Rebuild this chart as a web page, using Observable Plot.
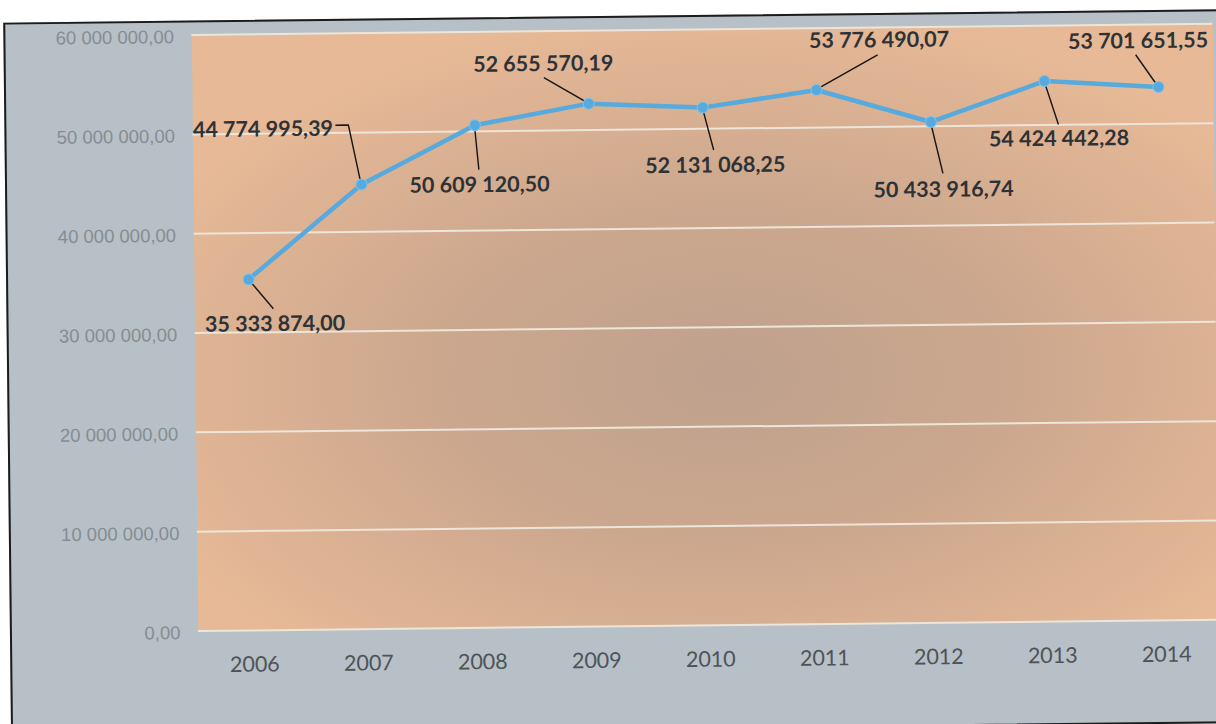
<!DOCTYPE html>
<html>
<head>
<meta charset="utf-8">
<script src="https://cdn.jsdelivr.net/npm/d3@7"></script>
<script src="https://cdn.jsdelivr.net/npm/@observablehq/plot@0.6"></script>
<style>
  html, body { margin: 0; padding: 0; background: #ffffff; width: 1216px; height: 724px; overflow: hidden; }
  #wrap { position: absolute; left: 0; top: 0; width: 1216px; height: 724px;
          transform: rotate(-0.63deg); transform-origin: 608px 362px; }
  #box { position: absolute; left: 7px; top: 16px; width: 1240px; height: 710px;
         background: #b6c0c6; border: 2.5px solid #1c1c1c; }
  #chart { position: absolute; left: 0; top: 0; }
</style>
</head>
<body>
<div id="wrap"><div id="box"></div><div id="chart"></div></div>
<script>
// ---- data ----
const years = ["2006", "2007", "2008", "2009", "2010", "2011", "2012", "2013", "2014"];
const values = [35333874.00, 44774995.39, 50609120.50, 52655570.19, 52131068.25,
                53776490.07, 50433916.74, 54424442.28, 53701651.55];
const yTicks = [0, 10000000, 20000000, 30000000, 40000000, 50000000, 60000000];

// ---- layout of the data labels (pixel offsets from each point) ----
const labelOffsets = [[26, 45], [-98, -56], [4, 60], [-45, -40], [12, 58], [63, -49], [12, 68], [14, 58], [-20, -46]];
const leaderPaths = [
  [[25, 30]],
  [[-12, -59], [-25, -59]],
  [[4, 45]],
  [[-44, -26]],
  [[11, 43]],
  [[62, -34]],
  [[12, 52]],
  [[14, 44]],
  [[-22, -32]]
];

const data = years.map((year, i) => ({year, value: values[i]}));
const locale = d3.formatLocale({decimal: ",", thousands: " ", grouping: [3], currency: ["", ""]});
const fmt = locale.format(",.2f");

const blue = "#57aade";

const leaders = (index, scales) => {
  const g = d3.create("svg:g").attr("fill", "none").attr("stroke", "#151515").attr("stroke-width", 1.4);
  data.forEach((d, i) => {
    const px = scales.x(d.year), py = scales.y(d.value);
    const pts = [[px, py], ...leaderPaths[i].map(([dx, dy]) => [px + dx, py + dy])];
    g.append("path").attr("d", d3.line()(pts));
  });
  return g.node();
};

const chart = Plot.plot({
  width: 1216,
  height: 724,
  marginLeft: 195,
  marginRight: 0,
  marginTop: 30,
  marginBottom: 98,
  style: {background: "transparent", overflow: "visible"},
  x: {type: "point", domain: years, padding: 0, insetLeft: 54, insetRight: 55},
  y: {domain: [0, 60000000]},
  marks: [
    Plot.frame({fill: "url(#orangeShade)", stroke: null}),
    Plot.ruleY(yTicks, {stroke: "#ece5da", strokeWidth: 2}),
    Plot.axisY({ticks: yTicks, tickFormat: fmt, tickSize: 0, tickPadding: 18, label: null,
                fontSize: 18.5, fontFamily: "Liberation Sans, Arial, sans-serif", fill: "#868d92", dy: 2}),
    Plot.axisX({tickSize: 0, tickPadding: 26, label: null, dx: 2,
                fontSize: 21.5, fontFamily: "Lato, sans-serif", fill: "#4e5357"}),
    leaders,
    Plot.line(data, {x: "year", y: "value", stroke: blue, strokeWidth: 4.5}),
    Plot.dot(data, {x: "year", y: "value", r: 5.5, fill: blue, stroke: "#7cc0ea", strokeWidth: 1}),
    ...data.map((d, i) => Plot.text([d], {
      x: "year", y: "value", text: e => fmt(e.value),
      dx: labelOffsets[i][0], dy: labelOffsets[i][1],
      fontSize: 21.5, fontWeight: 700, fontFamily: "Lato, sans-serif", fill: "#2e3236"
    }))
  ]
});

const svg = d3.select(chart);
const grad = svg.insert("defs", ":first-child").append("radialGradient")
  .attr("id", "orangeShade").attr("cx", 0.52).attr("cy", 0.58).attr("r", 0.62);
grad.append("stop").attr("offset", 0).attr("stop-color", "#bfa18d");
grad.append("stop").attr("offset", 0.45).attr("stop-color", "#cba78e");
grad.append("stop").attr("offset", 1).attr("stop-color", "#e7b996");

document.getElementById("chart").appendChild(chart);
</script>
</body>
</html>
